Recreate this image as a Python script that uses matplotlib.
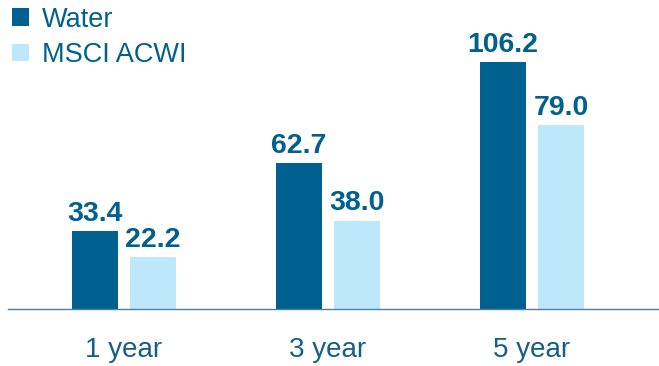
import numpy as np
import matplotlib.pyplot as plt

periods = ['1 year', '3 year', '5 year']
water = [33.4, 62.7, 106.2]
msci = [22.2, 38.0, 79.0]

dark = '#00608f'
light = '#bde7fb'

plt.rcParams['font.family'] = ['Liberation Sans', 'DejaVu Sans']

fig = plt.figure(figsize=(6.59, 3.66), dpi=100)
ax = fig.add_axes([0, 57 / 366, 1, 309 / 366])

x = np.arange(len(periods))
w = 0.225
off = 0.142
b1 = ax.bar(x - off, water, w, color=dark, label='Water')
b2 = ax.bar(x + off, msci, w, color=light, label='MSCI ACWI')

for bars, vals in [(b1, water), (b2, msci)]:
    for b, v in zip(bars, vals):
        ax.text(b.get_x() + b.get_width() / 2, v + 1.8, f'{v:.1f}',
                ha='center', va='bottom', fontsize=20.5, fontweight='bold',
                color=dark)

ax.set_xlim(-0.608, 2.623)
ax.set_ylim(0, 132.8)
ax.set_yticks([])
ax.set_xticks(x)
ax.set_xticklabels(periods, fontsize=20, color='#155f8a')
ax.tick_params(axis='x', length=0, pad=20)
for s in ['top', 'right', 'left']:
    ax.spines[s].set_visible(False)
ax.spines['bottom'].set_color('#4f7f9c')
ax.spines['bottom'].set_linewidth(1.0)
ax.spines['bottom'].set_bounds(-0.569, 2.623)

ax.legend(loc='upper left', bbox_to_anchor=(-0.01, 1.04), frameon=False,
          fontsize=19.5, labelcolor=dark, handlelength=0.6, handleheight=0.6,
          handletextpad=0.5, labelspacing=0.35, borderaxespad=0.3)

fig.savefig('out.png', dpi=100)
